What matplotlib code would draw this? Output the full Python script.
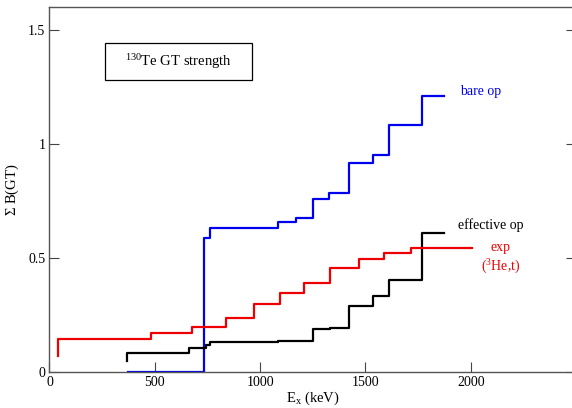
import matplotlib
matplotlib.use("Agg")
from matplotlib import pyplot as plt
from matplotlib.patches import Rectangle

plt.rcParams['font.family'] = ['Liberation Serif', 'DejaVu Serif']
plt.rcParams['mathtext.fontset'] = 'custom'
plt.rcParams['mathtext.rm'] = 'Liberation Serif'
plt.rcParams['mathtext.it'] = 'Liberation Serif:italic'

# cumulative GT strength, step positions in keV (value holds until next step)
bare_x = [371, 733, 762, 1086, 1170, 1249, 1328, 1423, 1534, 1613, 1767, 1872]
bare_y = [0.0, 0.586, 0.633, 0.659, 0.674, 0.757, 0.786, 0.915, 0.952, 1.083, 1.212, 1.212]

eff_x = [369, 369, 664, 743, 762, 1086, 1249, 1331, 1423, 1534, 1613, 1768, 1872]
eff_y = [0.048, 0.082, 0.107, 0.117, 0.133, 0.137, 0.187, 0.194, 0.289, 0.333, 0.404, 0.611, 0.611]

exp_x = [40, 40, 483, 676, 838, 971, 1094, 1208, 1331, 1468, 1589, 1717, 2004]
exp_y = [0.070, 0.143, 0.172, 0.199, 0.236, 0.299, 0.345, 0.389, 0.455, 0.494, 0.523, 0.543, 0.543]

xticks = [0, 500, 1000, 1500, 2000, 2500]
yticks = [0, 0.5, 1, 1.5]

fig = plt.figure(figsize=(5.72, 4.08), dpi=100)
ax = fig.add_axes([0.0865, 0.0882, 0.9205, 0.8946])

ax.step(bare_x, bare_y, where="post", color="#0000ee", lw=1.6)
ax.step(eff_x, eff_y, where="post", color="black", lw=1.6)
ax.step(exp_x, exp_y, where="post", color="#ee0000", lw=1.6)

ax.set_xlim(0, 2500)
ax.set_ylim(0, 1.6)
ax.set_xticks(xticks)
ax.set_xticklabels(["0", "500", "1000", "1500", "2000", ""])
ax.set_yticks(yticks)
ax.set_yticklabels(["0", "0.5", "1", "1.5"])
ax.tick_params(direction="in", length=7, width=0.8, color="#444444",
               labelsize=10, right=True, top=False, pad=3)
for s in ax.spines.values():
    s.set_color("#555555")
    s.set_linewidth(1.0)

ax.set_xlabel(r"E$_{\rm x}$ (keV)", fontsize=10.5, labelpad=0)
ax.set_ylabel(r"$\Sigma$ B(GT)", fontsize=10.5, labelpad=5)

# title box
ax.add_patch(Rectangle((263, 1.279), 698, 0.165, fill=False, ec="black", lw=0.9))
ax.text(612, 1.362, r"$^{130}$Te GT strength", fontsize=10.5, ha="center", va="center")

ax.text(1948, 1.228, "bare op", color="#0000ee", fontsize=10, ha="left", va="center")
ax.text(1939, 0.645, "effective op", color="black", fontsize=10, ha="left", va="center")
ax.text(2140, 0.545, "exp", color="#ee0000", fontsize=10, ha="center", va="center")
ax.text(2143, 0.46, r"($^{3}$He,t)", color="#ee0000", fontsize=10, ha="center", va="center")

fig.savefig("out.png", dpi=100)
